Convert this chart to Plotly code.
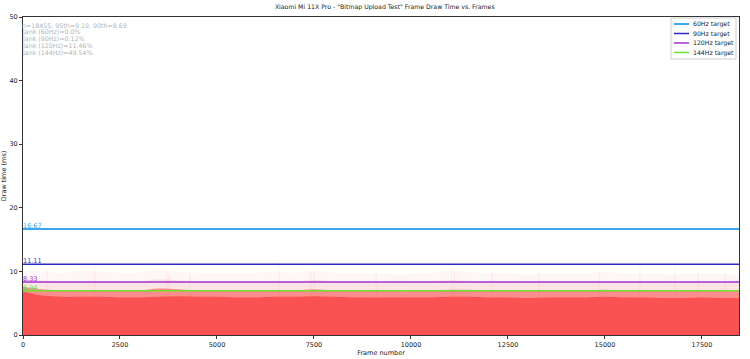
import plotly.graph_objects as go

# ---- data ----
n_frames = 18455
bin_frames = [0, 500, 1000, 1500, 2000, 2500, 3000, 3500, 4000, 4500, 5000, 5500, 6000, 6500,
              7000, 7500, 8000, 8500, 9000, 9500, 10000, 10500, 11000, 11500, 12000, 12500,
              13000, 13500, 14000, 14500, 15000, 15500, 16000, 16500, 17000, 17500, 18000, 18455]
dense_top = [6.8, 6.2, 6.0, 6.0, 6.0, 5.9, 5.9, 6.0, 6.1, 6.0, 6.0, 5.9, 5.9, 6.0,
             6.0, 6.1, 6.0, 5.9, 5.9, 5.9, 5.9, 5.9, 6.0, 6.0, 5.9, 5.9,
             5.8, 5.9, 5.9, 5.9, 6.0, 5.9, 5.9, 5.8, 5.8, 5.9, 5.8, 5.8]
mid_top = [7.6, 7.2, 7.0, 7.0, 7.0, 7.0, 7.0, 7.3, 7.2, 7.0, 7.0, 7.0, 7.0, 7.0,
           7.0, 7.2, 7.0, 7.0, 7.0, 6.9, 6.9, 7.0, 7.1, 7.1, 7.0, 7.0,
           6.9, 7.0, 7.0, 7.0, 7.1, 7.0, 7.0, 6.9, 6.9, 7.0, 6.9, 6.9]
light_top = [8.8, 8.6, 8.4, 8.4, 8.5, 8.4, 8.4, 8.8, 8.6, 8.4, 8.4, 8.4, 8.4, 8.5,
             8.4, 8.7, 8.4, 8.4, 8.3, 8.3, 8.3, 8.4, 8.6, 8.5, 8.4, 8.4,
             8.3, 8.4, 8.3, 8.4, 8.5, 8.4, 8.4, 8.3, 8.3, 8.4, 8.3, 8.3]
peak_top = [10.2, 10.0, 9.8, 10.2, 10.0, 9.8, 9.8, 10.3, 10.0, 9.8, 9.7, 9.8, 9.8, 10.0,
            9.8, 10.2, 9.8, 9.7, 9.7, 9.6, 9.6, 9.8, 10.1, 9.9, 9.7, 9.8,
            9.5, 9.7, 9.6, 9.7, 9.9, 9.7, 9.7, 9.6, 9.6, 9.7, 9.6, 9.6]

spike_frames = [620, 1850, 3700, 3760, 4300, 6600, 7420, 7500, 9100, 11050, 11120, 12100,
                13300, 14850, 15900, 16800, 17400, 18100]
spike_values = [10.5, 11.0, 10.2, 9.8, 9.6, 11.5, 10.0, 9.8, 10.5, 10.4, 10.0, 9.9,
                10.3, 10.2, 10.8, 10.6, 10.4, 10.1]

dip_frames = [7600, 11100, 13620, 14820, 16900, 18220]
dip_values = [5.0, 5.2, 2.8, 4.8, 5.0, 3.6]

targets = ["60Hz target", "90Hz target", "120Hz target", "144Hz target"]
target_ms = [16.67, 11.11, 8.33, 6.94]
target_labels = ["16.67", "11.11", "8.33", "6.94"]
target_colors = ["#3ea6ee", "#2b2bc4", "#a030d8", "#6ee030"]
target_widths = [2, 1.5, 1.5, 1.5]

stats_lines = ["n=18455, 95th=9.19, 90th=8.69",
               "Jank (60Hz)=0.0%",
               "Jank (90Hz)=0.12%",
               "Jank (120Hz)=11.46%",
               "Jank (144Hz)=49.54%"]

red = "250,82,82"
font_family = "DejaVu Sans"

# plot-area geometry (pixels) used to place paper-anchored decorations
W, H = 750, 359
L, R, T, B = 23, 11, 17, 24
PW, PH = W - L - R, H - T - B


def px_x(px):
    return (px - L) / PW


def px_y(py):
    return (H - B - py) / PH


fig = go.Figure()

# faint spikes
fig.add_trace(go.Bar(x=spike_frames, y=spike_values, width=30,
                     marker=dict(color=f"rgba({red},0.08)", line=dict(width=0)),
                     showlegend=False, hoverinfo="skip"))
# bands
for ys, op in [(peak_top, 0.05), (light_top, 0.10), (mid_top, 0.6), (dense_top, 1.0)]:
    fig.add_trace(go.Scatter(x=bin_frames, y=ys, mode="lines", line=dict(width=0, shape="spline"),
                             fill="tozeroy", fillcolor=f"rgba({red},{op})",
                             showlegend=False, hoverinfo="skip"))
# dips (lighter gaps in the red)
fig.add_trace(go.Bar(x=dip_frames, y=[6.0 - v for v in dip_values], base=dip_values, width=35,
                     marker=dict(color="rgba(255,235,235,0.8)", line=dict(width=0)),
                     showlegend=False, hoverinfo="skip"))

for name, v, c, w in zip(targets, target_ms, target_colors, target_widths):
    fig.add_trace(go.Scatter(x=[0, n_frames], y=[v, v], mode="lines", name=name,
                             line=dict(color=c, width=w), showlegend=False))

annotations = []
shapes = []
for lab, v, c in zip(target_labels, target_ms, target_colors):
    annotations.append(dict(x=0, y=v, xref="x", yref="y", text=lab, showarrow=False,
                            xanchor="left", yanchor="bottom", yshift=-3, xshift=-2,
                            font=dict(color=c, size=6.5, family=font_family)))
# stats text block
for i, line in enumerate(stats_lines):
    annotations.append(dict(x=px_x(20), y=px_y(25 + 7 * i), xref="paper", yref="paper",
                            text=line, showarrow=False, xanchor="left", yanchor="middle",
                            font=dict(color="#b4b4b4", size=6.3, family=font_family)))

# custom compact legend
shapes.append(dict(type="rect", xref="paper", yref="paper",
                   x0=px_x(671), x1=px_x(736), y0=px_y(59), y1=px_y(18),
                   line=dict(color="#cccccc", width=1), fillcolor="rgba(255,255,255,0.85)",
                   layer="above"))
for i, (name, c, w) in enumerate(zip(targets, target_colors, target_widths)):
    yy = px_y(24 + 9.5 * i)
    shapes.append(dict(type="line", xref="paper", yref="paper", x0=px_x(674), x1=px_x(689),
                       y0=yy, y1=yy, line=dict(color=c, width=w), layer="above"))
    annotations.append(dict(x=px_x(691), y=yy, xref="paper", yref="paper", text=name,
                            showarrow=False, xanchor="left", yanchor="middle",
                            font=dict(color="#222", size=6.2, family=font_family)))

fig.update_layout(
    width=W, height=H,
    margin=dict(l=L, r=R, t=T, b=B),
    paper_bgcolor="white", plot_bgcolor="white",
    barmode="overlay",
    title=dict(text='Xiaomi Mi 11X Pro - "Bitmap Upload Test" Frame Draw Time vs. Frames',
               x=0.513, xanchor="center", y=0.988, yanchor="top",
               font=dict(size=6.2, family=font_family, color="#222")),
    font=dict(family=font_family, size=6.5, color="#222"),
    showlegend=False,
    annotations=annotations,
    shapes=shapes,
)
fig.update_xaxes(range=[0, n_frames], tickvals=[0, 2500, 5000, 7500, 10000, 12500, 15000, 17500],
                 ticktext=["0", "2500", "5000", "7500", "10000", "12500", "15000", "17500"],
                 ticks="outside", ticklen=3, tickcolor="#333", showline=True, linecolor="#333",
                 linewidth=1, mirror=True, showgrid=False, zeroline=False, automargin=False,
                 title=dict(text="Frame number", standoff=1, font=dict(size=6.5)),
                 tickfont=dict(size=6.5))
fig.update_yaxes(range=[0, 50], tickvals=[0, 10, 20, 30, 40, 50],
                 ticks="outside", ticklen=3, tickcolor="#333", showline=True, linecolor="#333",
                 linewidth=1, mirror=True, showgrid=False, zeroline=False, automargin=False,
                 title=dict(text="Draw time (ms)", standoff=3, font=dict(size=6.5)),
                 tickfont=dict(size=6.5))

fig.write_html("out.html")
